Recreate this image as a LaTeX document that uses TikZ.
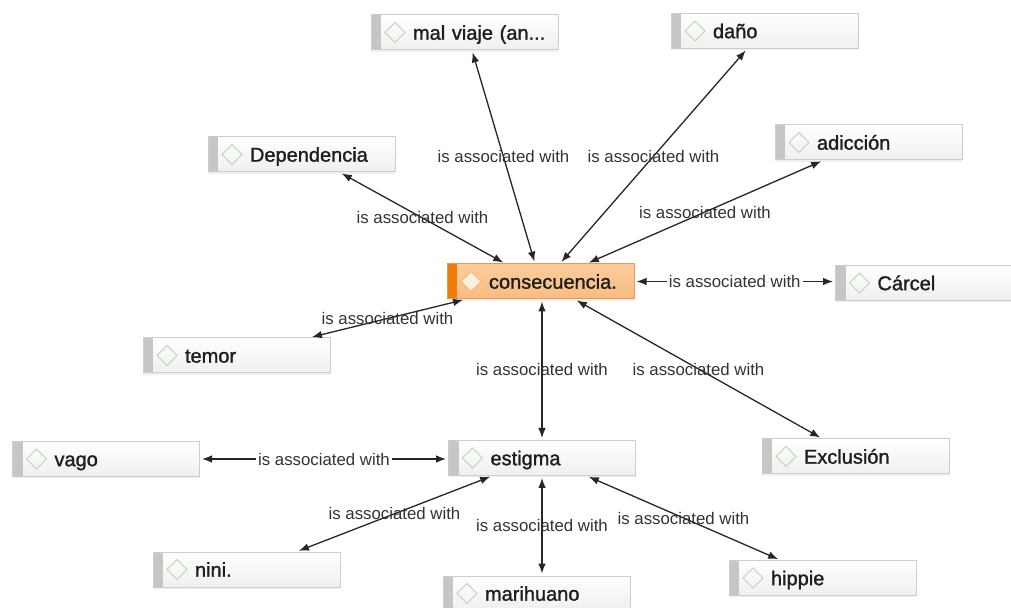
\documentclass[tikz,border=0pt]{standalone}
\usepackage{fontspec}
\setmainfont{Liberation Sans}
\newfontfamily\conceptfont[FakeBold=1.3]{Liberation Sans}
\usetikzlibrary{arrows.meta,%
                shadows}

\definecolor{boxline}{HTML}{CDCDCD}
\definecolor{boxfill}{HTML}{EFEFEF}
\definecolor{barcol}{HTML}{C6C6C6}
\definecolor{diamcol}{HTML}{B4DBAC}
\definecolor{focusline}{HTML}{E39A55}
\definecolor{focustop}{HTML}{FCCC9C}
\definecolor{focusbot}{HTML}{F8BC82}
\definecolor{focusbar}{HTML}{F07C0C}
\definecolor{focusdiam}{HTML}{FDF1DC}
\definecolor{nodetext}{HTML}{1E1E1E}
\definecolor{reltext}{HTML}{333333}

\tikzset{
  box/.style={draw=boxline, line width=0.5pt, minimum width=93.5pt, minimum height=17.5pt,
    inner sep=0pt, text width=93.5pt, text height=8pt, text depth=0.8pt, align=left,
    text=nodetext, font=\conceptfont\fontsize{10}{12}\selectfont,
    drop shadow={opacity=0.12,shadow xshift=0pt,shadow yshift=-0.8pt}},
  concept/.style={box, top color=white, bottom color=boxfill,
    path picture={
      \fill[barcol] (path picture bounding box.north west) rectangle ([xshift=5pt]path picture bounding box.south west);
      \draw[diamcol, line width=0.5pt] ([xshift=7pt]path picture bounding box.west)
        -- ++(5pt,5pt) -- ++(5pt,-5pt) -- ++(-5pt,-5pt) -- cycle;}},
  focus/.style={box, draw=focusline, top color=focustop, bottom color=focusbot,
    path picture={
      \fill[focusbar] (path picture bounding box.north west) rectangle ([xshift=5pt]path picture bounding box.south west);
      \filldraw[fill=focusdiam, draw=focusline!70, line width=0.5pt] ([xshift=7pt]path picture bounding box.west)
        -- ++(5pt,5pt) -- ++(5pt,-5pt) -- ++(-5pt,-5pt) -- cycle;}},
  assoc/.style={>={Latex[length=5pt,width=3.8pt]}, <->,
    line width=0.65pt, draw=black!85, shorten <=1pt, shorten >=1pt},
  rel/.style={font=\fontsize{8.4}{10}\selectfont, text=reltext, inner sep=1pt},
  relcut/.style={rel, fill=white, inner xsep=1pt},
}

\begin{document}
\begin{tikzpicture}[x=0.5pt,y=-0.5pt]
		\useasboundingbox (0,0) rectangle (1011,608);
		\fill[white] (0,0) rectangle (1011,608);
		\clip (0,0) rectangle (1011,608);
		% centre
		\node[focus] (cons) at (540.5,281.5) {\hspace*{21pt}consecuencia.};
		% upper ring
		\node[concept] (mal) at (464.5,32.5) {\hspace*{21pt}mal viaje (an...};
		\node[concept] (dano) at (764.5,31) {\hspace*{21pt}daño};
		\node[concept] (dep) at (301.5,154.5) {\hspace*{21pt}Dependencia};
		\node[concept] (adic) at (868.5,142.5) {\hspace*{21pt}adicción};
		\node[concept] (car) at (929,283) {\hspace*{21pt}Cárcel};
		\node[concept] (temor) at (236.5,355.5) {\hspace*{21pt}temor};
		% middle row
		\node[concept] (vago) at (106,459) {\hspace*{21pt}vago};
		\node[concept] (est) at (542,458) {\hspace*{21pt}estigma};
		\node[concept] (excl) at (855.5,456.5) {\hspace*{21pt}Exclusión};
		% bottom row
		\node[concept] (nini) at (246.5,569.5) {\hspace*{21pt}nini.};
		\node[concept] (mari) at (536.5,593.5) {\hspace*{21pt}marihuano};
		\node[concept] (hip) at (822.5,578) {\hspace*{21pt}hippie};
		% links from consecuencia
		\draw[assoc] ([xshift=-2.75pt]cons.north) -- node[rel] {is associated with} ([xshift=3.75pt]mal.south);
		\draw[assoc] ([xshift=9.75pt]cons.north) -- node[rel] {is associated with} ([xshift=-8.75pt]dano.south);
		\draw[assoc] ([xshift=-17.75pt]cons.north) -- node[rel] {is associated with} ([xshift=19.25pt]dep.south);
		\draw[assoc] ([xshift=23.25pt]cons.north) -- node[rel] {is associated with} ([xshift=-22.75pt]adic.south);
		\draw[assoc] (cons.east) -- node[relcut] {is associated with} (cons.east -| car.west);
		\draw[assoc] ([xshift=-37.75pt]cons.south) -- node[rel] {is associated with} ([xshift=36.75pt]temor.north);
		\draw[assoc] (cons.south -| est.north) -- node[rel] {is associated with} (est.north);
		\draw[assoc] ([xshift=17.25pt]cons.south) -- node[rel] {is associated with} ([xshift=-16.75pt]excl.north);
		% links from estigma
		\draw[assoc] (vago.east) -- node[relcut] {is associated with} (vago.east -| est.west);
		\draw[assoc] ([xshift=-25pt]est.south) -- node[rel] {is associated with} ([xshift=25.25pt]nini.north);
		\draw[assoc] (est.south) -- node[rel] {is associated with} (est.south |- mari.north);
		\draw[assoc] ([xshift=22.5pt]est.south) -- node[rel] {is associated with} ([xshift=-21.25pt]hip.north);
	\end{tikzpicture}
\end{document}
